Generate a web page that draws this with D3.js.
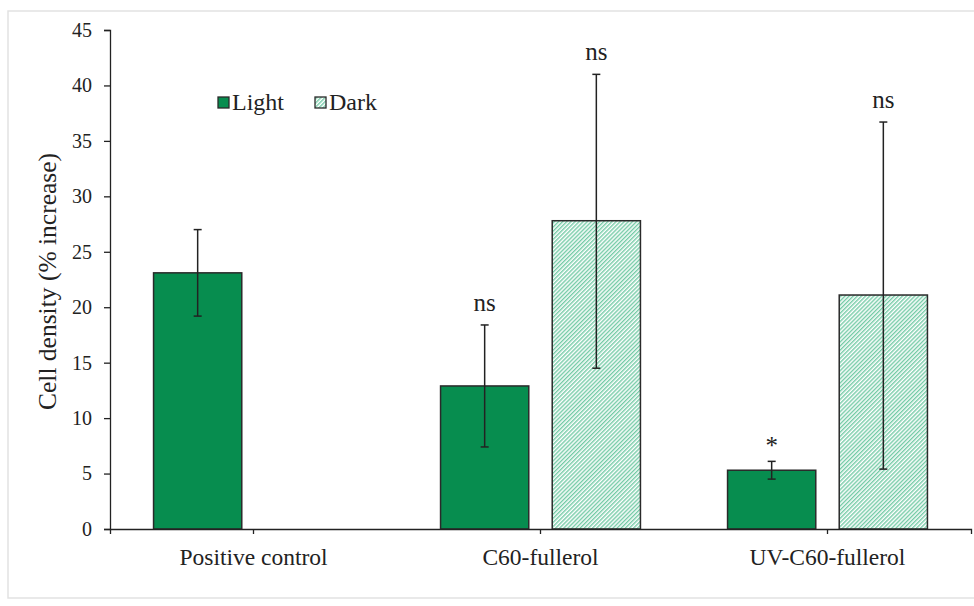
<!DOCTYPE html>
<html><head><meta charset="utf-8">
<script src="https://cdn.jsdelivr.net/npm/d3@7"></script>
<style>body{margin:0;background:#fff}svg{display:block}</style>
</head><body><svg id="c" width="974" height="606"></svg>
<script>
const categories = ["Positive control", "C60-fullerol", "UV-C60-fullerol"];
const seriesNames = ["Light", "Dark"];
const lightValues = [23.1, 12.9, 5.3];
const lightErrLow = [19.2, 7.4, 4.5];
const lightErrHigh = [27.0, 18.4, 6.1];
const darkValues = [null, 27.8, 21.1];
const darkErrLow = [null, 14.5, 5.4];
const darkErrHigh = [null, 41.0, 36.7];
const lightLabels = ["", "ns", "*"];
const darkLabels = ["", "ns", "ns"];
const yTicks = [0, 5, 10, 15, 20, 25, 30, 35, 40, 45];

const FONT = "Liberation Serif, Tinos, Times New Roman, Times, Noto Serif, DejaVu Serif, serif";
const TXT = "#222";

const svg = d3.select("#c");
svg.append("rect").attr("x", 8).attr("y", 11).attr("width", 990).attr("height", 587)
  .attr("fill", "none").attr("stroke", "#e2e2e2").attr("stroke-width", 1.5);

const defs = svg.append("defs");
const P = 2.9;
const pat = defs.append("pattern").attr("id", "hatch").attr("patternUnits", "userSpaceOnUse")
  .attr("width", P).attr("height", P).attr("patternTransform", "rotate(45)");
pat.append("rect").attr("width", P).attr("height", P).attr("fill", "#fff");
pat.append("line").attr("x1", 0.7).attr("y1", 0).attr("x2", 0.7).attr("y2", P)
  .attr("stroke", "#74cba6").attr("stroke-width", 1.4);

const margin = {left: 110, right: 3, top: 30, bottom: 77};
const W = 974, H = 606;
const x0 = d3.scaleBand().domain(categories).range([margin.left, W - margin.right]).paddingInner(0).paddingOuter(0);
const x1 = d3.scaleBand().domain(seriesNames).range([0, x0.bandwidth()]).paddingInner(0.21).paddingOuter(0.39);
const y = d3.scaleLinear().domain([0, 45]).range([H - margin.bottom, margin.top]);

const fills = {Light: "#078d4f", Dark: "url(#hatch)"};
const data = [];
categories.forEach((c, i) => {
  data.push({c, s: "Light", v: lightValues[i], lo: lightErrLow[i], hi: lightErrHigh[i], lab: lightLabels[i]});
  if (darkValues[i] != null) data.push({c, s: "Dark", v: darkValues[i], lo: darkErrLow[i], hi: darkErrHigh[i], lab: darkLabels[i]});
});

const g = svg.append("g");
g.selectAll("rect.bar").data(data).join("rect").attr("class", "bar")
  .attr("x", d => x0(d.c) + x1(d.s)).attr("width", x1.bandwidth())
  .attr("y", d => y(d.v)).attr("height", d => y(0) - y(d.v))
  .attr("fill", d => fills[d.s]).attr("stroke", "#2a2a2a").attr("stroke-width", 1.5);

const cx = d => x0(d.c) + x1(d.s) + x1.bandwidth() / 2;
const eb = g.selectAll("g.err").data(data).join("g").attr("class", "err")
  .attr("stroke", "#222").attr("stroke-width", 1.5);
eb.append("line").attr("x1", cx).attr("x2", cx).attr("y1", d => y(d.lo)).attr("y2", d => y(d.hi));
eb.append("line").attr("x1", d => cx(d) - 4).attr("x2", d => cx(d) + 4).attr("y1", d => y(d.hi)).attr("y2", d => y(d.hi));
eb.append("line").attr("x1", d => cx(d) - 4).attr("x2", d => cx(d) + 4).attr("y1", d => y(d.lo)).attr("y2", d => y(d.lo));

g.selectAll("text.sig").data(data.filter(d => d.lab)).join("text").attr("class", "sig")
  .attr("x", cx).attr("y", d => y(d.hi) - (d.lab === "*" ? 7 : 14))
  .attr("text-anchor", "middle").attr("font-size", 25)
  .attr("font-family", FONT).attr("fill", TXT)
  .text(d => d.lab);

// axes
const ya = svg.append("g").attr("transform", `translate(${margin.left},0)`)
  .call(d3.axisLeft(y).tickValues(yTicks).tickSize(6).tickPadding(12));
ya.attr("font-family", FONT).attr("font-size", 20);
ya.selectAll("text").attr("fill", TXT);
ya.selectAll("line,path").attr("stroke", "#222").attr("stroke-width", 1.3);

const xa = svg.append("g").attr("transform", `translate(0,${y(0)})`)
  .call(d3.axisBottom(x0).tickSize(5).tickSizeOuter(5).tickPadding(14));
xa.attr("font-family", FONT).attr("font-size", 23.5);
xa.selectAll("text").attr("fill", TXT);
xa.selectAll("line,path").attr("stroke", "#222").attr("stroke-width", 1.3);

svg.append("text").attr("transform", `translate(56,${(y(0) + y(45)) / 2 + 2}) rotate(-90)`)
  .attr("text-anchor", "middle").attr("font-size", 25.5).attr("font-family", FONT).attr("fill", TXT)
  .text("Cell density (% increase)");

// legend
const legend = svg.append("g").attr("transform", "translate(218,97)");
const litems = [{s: "Light", x: 0}, {s: "Dark", x: 97}];
litems.forEach(it => {
  legend.append("rect").attr("x", it.x).attr("y", 0).attr("width", 11).attr("height", 11)
    .attr("fill", fills[it.s]).attr("stroke", "#2a2a2a").attr("stroke-width", 1.3);
  legend.append("text").attr("x", it.x + 14).attr("y", 13).attr("font-size", 24)
    .attr("font-family", FONT).attr("fill", TXT).text(it.s);
});
</script></body></html>
